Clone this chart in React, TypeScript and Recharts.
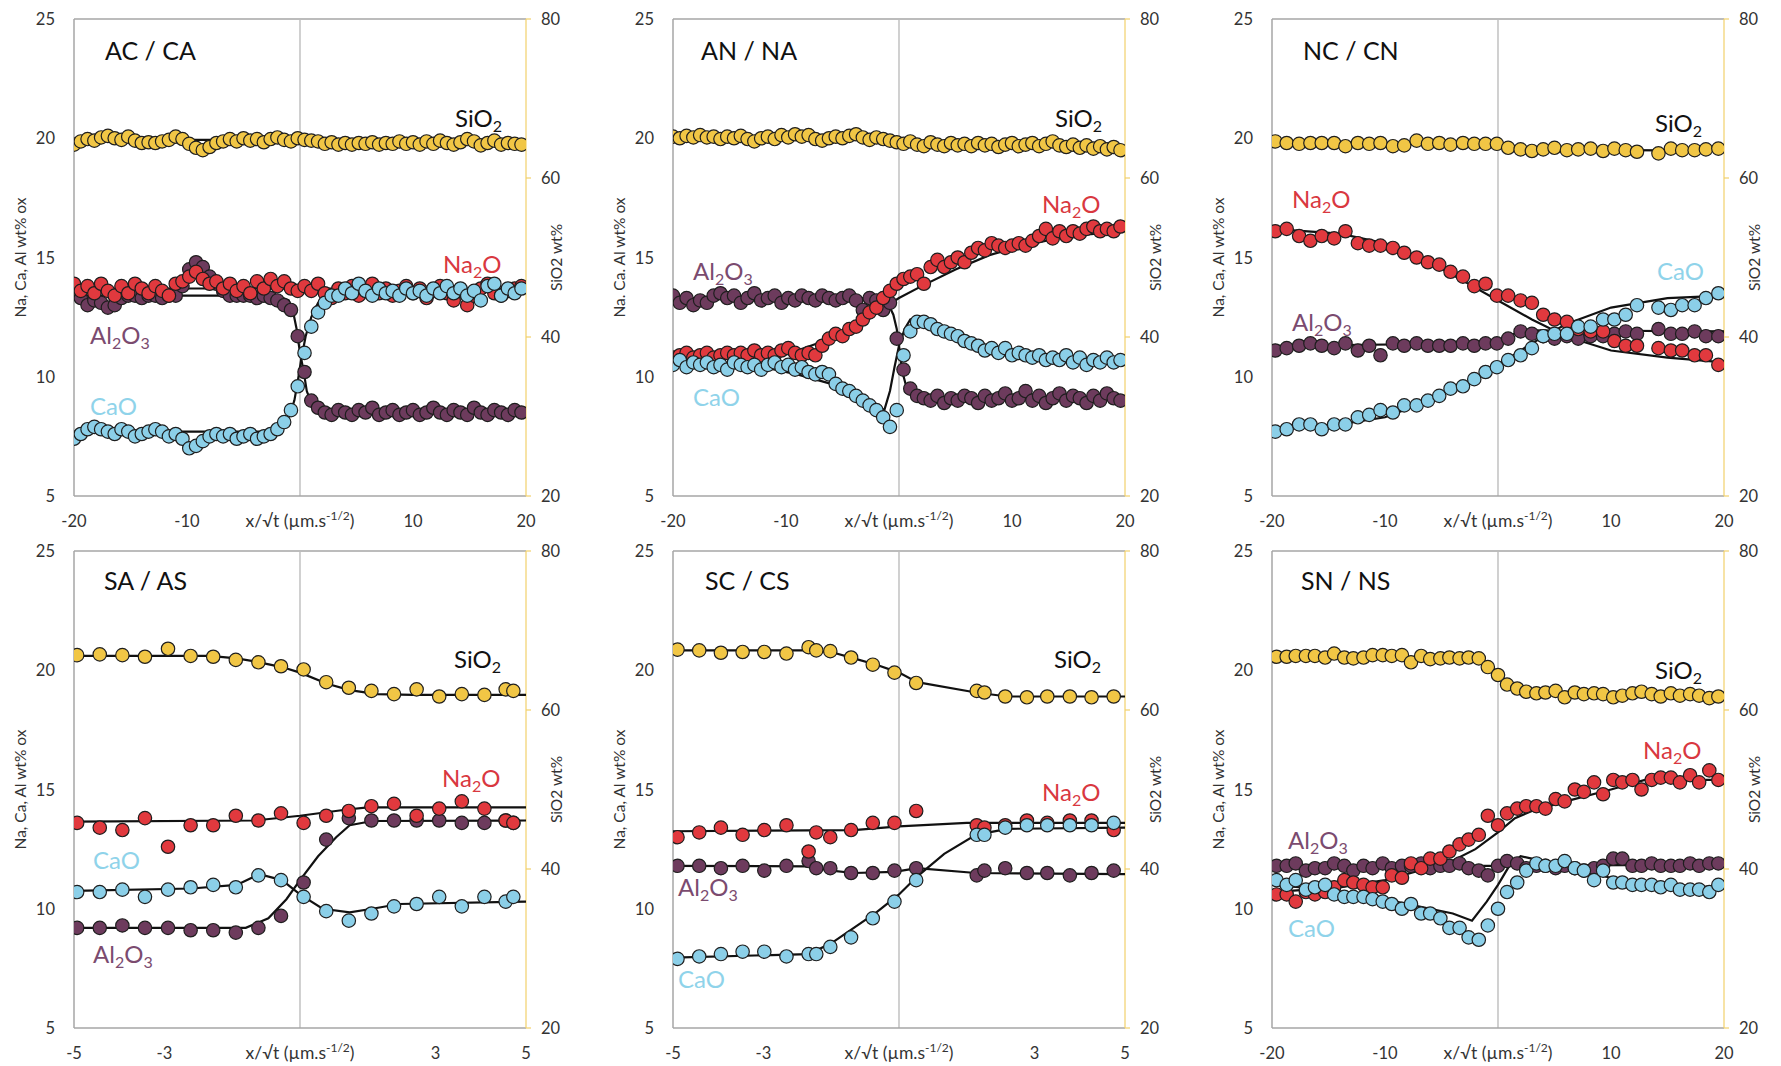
import { ComposedChart, Scatter, XAxis, YAxis, ReferenceLine } from "recharts";

// ---- scan positions -------------------------------------------------------
// dense 40 µm traverses (AC/CA and AN/NA share the same step)
const denseX = [
  -20, -19.4, -18.8, -18.2, -17.6, -17, -16.4, -15.8, -15.2, -14.6,
  -14, -13.4, -12.8, -12.2, -11.6, -11, -10.4, -9.8, -9.2, -8.6,
  -8, -7.4, -6.8, -6.2, -5.6, -5, -4.4, -3.8, -3.2, -2.6,
  -2, -1.4, -0.8, -0.2, 0.4, 1, 1.6, 2.2, 2.8, 3.4,
  4, 4.6, 5.2, 5.8, 6.4, 7, 7.6, 8.2, 8.8, 9.4,
  10, 10.6, 11.2, 11.8, 12.4, 13, 13.6, 14.2, 14.8, 15.4,
  16, 16.6, 17.2, 17.8, 18.4, 19, 19.6,
];

// ---- AC / CA --------------------------------------------------------------
const acSi = [
  64.2, 64.6, 64.9, 64.7, 65.1, 65.3, 65.0, 64.8, 65.2, 64.7,
  64.4, 64.5, 64.4, 64.6, 64.8, 65.2, 64.9, 64.3, 63.8, 63.5,
  63.9, 64.4, 64.6, 64.9, 64.6, 65.0, 64.7, 64.9, 64.5, 64.9,
  65.1, 64.8, 64.6, 65.0, 64.8, 64.7, 64.6, 64.3, 64.5, 64.2,
  64.4, 64.2, 64.4, 64.3, 64.5, 64.2, 64.4, 64.3, 64.6, 64.3,
  64.5, 64.2, 64.6, 64.3, 64.7, 64.4, 64.2, 64.5, 64.9, 64.6,
  64.1, 64.4, 64.7, 64.2, 64.4, 64.3, 64.2,
];
const acNa = [
  13.9, 13.6, 13.8, 13.5, 13.9, 13.6, 13.4, 13.8, 13.5, 13.9,
  13.7, 13.5, 13.8, 13.6, 13.4, 13.9, 14.0, 14.2, 14.4, 14.1,
  13.9, 14.0, 13.7, 13.9, 13.6, 13.8, 13.5, 14.0, 13.7, 14.1,
  13.8, 14.0, 13.7, 13.6, 13.8, 13.6, 13.9, 13.5, 13.3, 13.7,
  13.5, 13.8, 13.4, 13.6, 13.9, 13.5, 13.7, 13.4, 13.6, 13.8,
  13.5, 13.7, 13.3, 13.6, 13.8, 13.5, 13.2, 13.6, 13.0, 13.4,
  13.7, 13.9, 13.5, 13.4, 13.6, 13.7, 13.8,
];
const acAl = [
  13.5, 13.3, 13.0, 13.2, 13.1, 12.9, 13.0, 13.3, 13.4, 13.4,
  13.3, 13.4, 13.4, 13.3, 13.4, 13.4, 13.8, 14.5, 14.8, 14.6,
  14.2, 13.9, 13.6, 13.4, 13.4, 13.4, 13.4, 13.3, 13.4, 13.3,
  13.2, 13.0, 12.8, 11.7, 10.2, 9.0, 8.7, 8.5, 8.4, 8.6,
  8.5, 8.4, 8.6, 8.5, 8.7, 8.4, 8.5, 8.6, 8.4, 8.5,
  8.6, 8.4, 8.5, 8.7, 8.5, 8.4, 8.6, 8.5, 8.4, 8.7,
  8.5, 8.4, 8.6, 8.5, 8.4, 8.6, 8.5,
];
const acCa = [
  7.4, 7.6, 7.8, 7.9, 7.8, 7.7, 7.6, 7.8, 7.7, 7.5,
  7.6, 7.7, 7.8, 7.7, 7.5, 7.6, 7.4, 7.0, 7.1, 7.3,
  7.5, 7.6, 7.5, 7.6, 7.4, 7.5, 7.6, 7.4, 7.5, 7.6,
  7.8, 8.1, 8.6, 9.6, 11.0, 12.1, 12.7, 13.1, 13.4, 13.4,
  13.7, 13.5, 13.9, 13.6, 13.4, 13.7, 13.5, 13.6, 13.4, 13.7,
  13.5, 13.6, 13.4, 13.7, 13.5, 13.8, 13.5, 13.7, 13.4, 13.6,
  13.2, 13.8, 13.9, 13.4, 13.7, 13.5, 13.7,
];
const acFitSi = [[-20, 64.8], [0, 64.8], [20, 64.4]];
const acFitNa = [[-20, 13.7], [20, 13.7]];
const acFitAl = [[-20, 13.4], [-2, 13.4], [-1, 13.2], [-0.6, 12.7], [-0.3, 12.0], [0, 11.0], [0.3, 10.3], [0.6, 9.4], [1, 8.9], [1.6, 8.6], [2.5, 8.5], [20, 8.5]];
const acFitCa = [[-20, 7.7], [-2.5, 7.7], [-1.6, 7.9], [-1, 8.3], [-0.5, 9.0], [-0.2, 9.8], [0.1, 10.7], [0.5, 11.7], [1, 12.5], [1.6, 13.1], [2.4, 13.5], [3.5, 13.6], [20, 13.6]];

// ---- AN / NA --------------------------------------------------------------
const anSi = [
  65.2, 65.0, 65.3, 65.1, 65.4, 65.1, 65.2, 64.9, 65.2, 65.0,
  65.3, 64.9, 64.6, 65.0, 65.2, 64.9, 65.4, 65.1, 65.5, 65.2,
  65.4, 64.9, 64.7, 65.0, 65.2, 65.0, 65.3, 65.5, 65.1, 64.8,
  65.1, 64.9, 64.7, 64.5, 64.3, 64.6, 64.2, 64.0, 64.5, 64.2,
  64.0, 64.4, 64.1, 64.3, 64.0, 64.4, 64.1, 64.3, 63.9, 64.2,
  64.4, 64.0, 64.2, 64.4, 64.0, 64.3, 64.6, 64.1, 63.9, 64.2,
  63.8, 64.1, 63.7, 64.0, 63.6, 63.9, 63.5,
];
const anNa = [
  10.8, 10.9, 11.0, 10.8, 10.9, 11.0, 10.8, 10.9, 11.0, 10.9,
  11.0, 10.9, 11.1, 10.9, 11.0, 10.9, 11.1, 11.2, 11.0, 10.9,
  11.0, 10.9, 11.3, 11.6, 11.8, 11.7, 12.0, 12.1, 12.4, 12.7,
  12.9, 13.3, 13.6, 13.9, 14.1, 14.2, 14.3, 13.9, 14.6, 14.9,
  14.6, 14.8, 15.0, 14.8, 15.2, 15.4, 15.3, 15.6, 15.5, 15.4,
  15.5, 15.6, 15.5, 15.7, 15.9, 16.2, 15.8, 16.1, 15.9, 16.1,
  16.0, 16.2, 16.3, 16.1, 16.2, 16.1, 16.3,
];
const anAl = [
  13.4, 13.1, 13.3, 13.0, 13.2, 13.1, 13.4, 13.5, 13.3, 13.4,
  13.1, 13.3, 13.5, 13.2, 13.3, 13.4, 13.1, 13.3, 13.2, 13.4,
  13.3, 13.2, 13.4, 13.3, 13.2, 13.3, 13.4, 13.2, 12.8, 13.3,
  13.2, 12.8, 13.1, 11.6, 10.3, 9.5, 9.2, 9.1, 9.0, 9.2,
  8.9, 9.1, 9.0, 9.2, 9.1, 8.9, 9.2, 9.0, 9.1, 9.3,
  9.0, 9.1, 9.4, 9.0, 9.2, 8.9, 9.1, 9.3, 9.0, 9.2,
  9.1, 8.9, 9.2, 9.0, 9.3, 9.1, 9.0,
];
const anCa = [
  10.5, 10.7, 10.4, 10.6, 10.5, 10.6, 10.4, 10.5, 10.3, 10.6,
  10.5, 10.4, 10.5, 10.3, 10.5, 10.6, 10.4, 10.5, 10.3, 10.4,
  10.2, 10.1, 10.2, 10.1, 9.7, 9.5, 9.4, 9.2, 9.0, 8.8,
  8.6, 8.3, 7.9, 8.6, 10.9, 11.9, 12.3, 12.3, 12.2, 12.0,
  11.9, 11.8, 11.7, 11.5, 11.4, 11.3, 11.1, 11.2, 11.0, 11.2,
  10.9, 11.0, 10.9, 10.8, 10.9, 10.7, 10.8, 10.7, 10.9, 10.6,
  10.8, 10.5, 10.7, 10.6, 10.8, 10.6, 10.7,
];
const anFitSi = [[-20, 65.1], [-5, 65.1], [0, 64.6], [5, 64.2], [20, 63.9]];
const anFitNa = [[-20, 10.8], [-12, 10.9], [-9, 11.1], [-6, 11.6], [-3, 12.3], [-1, 13.0], [0, 13.3], [2, 13.8], [5, 14.5], [8, 15.1], [11, 15.5], [15, 15.9], [20, 16.1]];
const anFitAl = [[-20, 13.3], [-2, 13.3], [-1, 13.1], [-0.5, 12.6], [-0.2, 12.0], [0, 11.3], [0.3, 10.2], [0.7, 9.5], [1.2, 9.2], [2, 9.1], [20, 9.1]];
const anFitCa = [[-20, 10.5], [-12, 10.4], [-9, 10.1], [-6, 9.7], [-4, 9.4], [-2.5, 9.0], [-1.3, 8.6], [-0.8, 9.4], [-0.4, 10.4], [0, 11.3], [0.5, 12.0], [1, 12.4], [1.7, 12.5], [3, 12.3], [5, 11.9], [7, 11.4], [10, 10.9], [14, 10.7], [20, 10.6]];

// ---- NC / CN --------------------------------------------------------------
const ncX = [
  -19.7, -18.7, -17.6, -16.6, -15.6, -14.5, -13.5, -12.4, -11.4, -10.4,
  -9.3, -8.3, -7.2, -6.2, -5.2, -4.2, -3.1, -2.1, -1.1, -0.1,
  0.9, 2.0, 3.0, 4.0, 5.0, 6.1, 7.1, 8.2, 9.3, 10.3,
  11.3, 12.3, 14.2, 15.3, 16.3, 17.4, 18.4, 19.5,
];
const ncSi = [
  64.6, 64.4, 64.3, 64.4, 64.4, 64.4, 64.0, 64.4, 64.3, 64.4,
  64.0, 64.1, 64.7, 64.3, 64.4, 64.2, 64.4, 64.3, 64.3, 64.3,
  63.8, 63.6, 63.4, 63.6, 63.8, 63.5, 63.6, 63.7, 63.4, 63.7,
  63.5, 63.3, 63.1, 63.7, 63.5, 63.5, 63.6, 63.7,
];
const ncNa = [
  16.1, 16.2, 15.9, 15.7, 15.9, 15.8, 16.1, 15.6, 15.5, 15.5,
  15.4, 15.2, 15.0, 14.8, 14.7, 14.4, 14.2, 13.8, 13.9, 13.4,
  13.4, 13.2, 13.1, 12.6, 12.4, 12.3, 12.0, 11.9, 11.9, 11.5,
  11.3, 11.3, 11.2, 11.1, 11.1, 10.9, 10.9, 10.5,
];
const ncAl = [
  11.1, 11.2, 11.3, 11.4, 11.3, 11.2, 11.4, 11.1, 11.3, 10.9,
  11.4, 11.3, 11.4, 11.3, 11.3, 11.3, 11.4, 11.3, 11.4, 11.4,
  11.6, 11.9, 11.8, 11.7, 11.6, 11.7, 11.6, 11.7, 11.7, 11.8,
  11.9, 11.8, 12.0, 11.8, 11.8, 11.9, 11.7, 11.7,
];
const ncCa = [
  7.7, 7.8, 8.0, 8.0, 7.8, 8.0, 8.0, 8.3, 8.4, 8.6,
  8.5, 8.8, 8.8, 9.0, 9.2, 9.5, 9.6, 9.9, 10.2, 10.4,
  10.7, 10.9, 11.2, 11.7, 11.8, 11.8, 12.1, 12.1, 12.4, 12.4,
  12.6, 13.0, 12.9, 12.8, 13.0, 13.0, 13.3, 13.5,
];
const ncFitSi = [[-20, 64.4], [0, 64.3], [1, 64.0], [3, 63.6], [20, 63.4]];
const ncFitNa = [[-20, 16.2], [-14, 16.0], [-10, 15.6], [-6, 14.8], [-3, 14.0], [0, 13.2], [3, 12.4], [6, 11.7], [10, 11.1], [15, 10.8], [20, 10.6]];
const ncFitAl = [[-20, 11.3], [0, 11.4], [1, 11.7], [2, 11.95], [20, 11.9]];
const ncFitCa = [[-20, 7.8], [-14, 8.0], [-10, 8.3], [-6, 9.0], [-3, 9.7], [0, 10.5], [3, 11.4], [6, 12.2], [10, 12.9], [15, 13.3], [20, 13.4]];

// ---- SA / AS --------------------------------------------------------------
const saX = [-4.93, -4.43, -3.93, -3.43, -2.92, -2.42, -1.92, -1.42, -0.92, -0.42, 0.08, 0.58, 1.08, 1.58, 2.08, 2.58, 3.08, 3.58, 4.08, 4.55, 4.72];
const saSi = [66.9, 67.0, 66.9, 66.7, 67.7, 66.8, 66.7, 66.3, 66.0, 65.5, 65.1, 63.5, 62.8, 62.4, 62.0, 62.6, 61.7, 62.0, 61.9, 62.6, 62.4];
const saNa = [13.6, 13.4, 13.3, 13.8, 12.6, 13.5, 13.5, 13.9, 13.7, 14.0, 13.6, 13.9, 14.1, 14.3, 14.4, 13.9, 14.2, 14.5, 14.2, 13.7, 13.6];
const saAl = [9.2, 9.2, 9.3, 9.2, 9.2, 9.1, 9.1, 9.0, 9.2, 9.7, 11.1, 12.9, 13.8, 13.7, 13.7, 13.7, 13.7, 13.6, 13.6, 13.7, 13.6];
const saCa = [10.7, 10.7, 10.8, 10.5, 10.8, 10.9, 11.0, 10.9, 11.4, 11.2, 10.5, 9.9, 9.5, 9.8, 10.1, 10.2, 10.5, 10.1, 10.5, 10.3, 10.5];
const saFitSi = [[-5, 66.8], [-2, 66.8], [-1.4, 66.5], [-0.9, 66.0], [-0.4, 65.4], [0, 64.7], [0.6, 63.3], [1.1, 62.5], [1.7, 62.0], [2.5, 61.9], [5, 61.9]];
const saFitNa = [[-5, 13.65], [-1, 13.7], [0, 13.9], [1, 14.15], [1.5, 14.25], [5, 14.25]];
const saFitAl = [[-5, 9.2], [-1.2, 9.2], [-0.7, 9.6], [-0.3, 10.4], [0, 11.2], [0.4, 12.2], [0.8, 13.0], [1.1, 13.5], [1.6, 13.68], [5, 13.7]];
const saFitCa = [[-5, 10.75], [-2.4, 10.85], [-1.4, 11.0], [-0.9, 11.45], [-0.4, 11.2], [0, 10.6], [0.5, 10.0], [1.1, 9.85], [1.6, 10.0], [2.2, 10.2], [5, 10.3]];

// ---- SC / CS --------------------------------------------------------------
const scX = [-4.9, -4.42, -3.94, -3.46, -2.98, -2.49, -2.0, -1.83, -1.52, -1.06, -0.58, -0.1, 0.38, 1.72, 1.89, 2.35, 2.83, 3.28, 3.78, 4.26, 4.75];
const scSi = [67.6, 67.5, 67.2, 67.3, 67.3, 67.1, 67.9, 67.5, 67.4, 66.6, 65.7, 64.7, 63.4, 62.4, 62.2, 61.7, 61.6, 61.7, 61.7, 61.6, 61.7];
const scNa = [13.0, 13.2, 13.4, 13.1, 13.3, 13.5, 12.4, 13.2, 13.0, 13.3, 13.6, 13.6, 14.1, 13.5, 13.4, 13.5, 13.7, 13.6, 13.7, 13.7, 13.3];
const scAl = [11.8, 11.8, 11.7, 11.8, 11.6, 11.8, 12.0, 11.7, 11.7, 11.5, 11.5, 11.6, 11.7, 11.4, 11.6, 11.7, 11.5, 11.5, 11.4, 11.5, 11.6];
const scCa = [7.9, 8.0, 8.1, 8.2, 8.2, 8.0, 8.1, 8.1, 8.4, 8.8, 9.6, 10.3, 11.2, 13.1, 13.1, 13.4, 13.5, 13.5, 13.5, 13.5, 13.6];
const scFitSi = [[-5, 67.5], [-2, 67.5], [-1.5, 67.3], [-1, 66.5], [-0.5, 65.7], [0, 64.7], [0.4, 63.5], [1.7, 62.2], [2.4, 61.7], [5, 61.7]];
const scFitNa = [[-5, 13.25], [-1, 13.3], [0, 13.45], [1.5, 13.6], [5, 13.6]];
const scFitAl = [[-5, 11.8], [-2, 11.78], [-1.5, 11.6], [-1, 11.5], [-0.1, 11.55], [0.4, 11.7], [1.7, 11.5], [5, 11.45]];
const scFitCa = [[-5, 7.95], [-2, 8.1], [-1.5, 8.55], [-1, 9.2], [-0.5, 9.85], [0, 10.6], [0.4, 11.35], [1, 12.3], [1.7, 13.1], [2.4, 13.35], [5, 13.4]];

// ---- SN / NS --------------------------------------------------------------
const snX = [
  -19.6, -18.7, -17.9, -17.0, -16.2, -15.3, -14.5, -13.6, -12.8, -11.9,
  -11.1, -10.2, -9.4, -8.5, -7.7, -6.8, -6.0, -5.1, -4.3, -3.4,
  -2.6, -1.7, -0.9, 0.0, 0.8, 1.7, 2.5, 3.4, 4.2, 5.1,
  5.9, 6.8, 7.6, 8.5, 9.3, 10.2, 11.0, 11.9, 12.7, 13.6,
  14.4, 15.3, 16.1, 17.0, 17.8, 18.7, 19.5,
];
const snSi = [
  66.7, 66.7, 66.8, 66.8, 66.8, 66.6, 67.1, 66.6, 66.5, 66.6,
  66.9, 66.9, 66.8, 66.9, 66.0, 66.8, 66.4, 66.5, 66.6, 66.5,
  66.6, 66.5, 65.4, 64.4, 63.2, 62.7, 62.3, 62.1, 62.2, 62.4,
  61.6, 62.2, 62.0, 62.1, 62.0, 61.6, 61.8, 62.1, 62.3, 62.0,
  61.7, 62.1, 61.8, 62.0, 61.8, 61.5, 61.7,
];
const snNa = [
  10.6, 10.6, 10.3, 10.7, 10.6, 10.7, 10.9, 11.2, 11.1, 11.0,
  10.9, 10.9, 11.4, 11.3, 11.9, 11.7, 12.1, 12.1, 12.4, 12.7,
  12.9, 13.1, 13.9, 13.5, 14.0, 14.2, 14.3, 14.3, 14.2, 14.6,
  14.5, 15.0, 14.9, 15.3, 14.8, 15.4, 15.3, 15.4, 15.0, 15.4,
  15.5, 15.5, 15.3, 15.6, 15.3, 15.8, 15.4,
];
const snAl = [
  11.8, 11.8, 11.9, 11.6, 11.7, 11.7, 11.9, 11.8, 11.6, 11.8,
  11.7, 11.9, 11.7, 11.8, 11.8, 11.9, 11.7, 11.8, 11.8, 11.9,
  11.7, 11.6, 11.4, 11.8, 12.0, 11.9, 11.7, 11.8, 11.8, 11.7,
  11.8, 11.7, 11.6, 11.7, 11.8, 12.1, 12.1, 11.8, 11.8, 11.9,
  11.8, 11.8, 11.8, 11.9, 11.8, 11.9, 11.9,
];
const snCa = [
  11.2, 11.0, 11.2, 10.8, 10.9, 11.0, 10.6, 10.5, 10.5, 10.5,
  10.4, 10.3, 10.2, 10.0, 10.2, 9.8, 9.8, 9.6, 9.2, 9.2,
  8.8, 8.7, 9.3, 10.0, 10.7, 11.1, 11.6, 11.9, 11.8, 11.8,
  12.0, 11.7, 11.6, 11.2, 11.6, 11.1, 11.1, 11.0, 11.0, 11.0,
  10.9, 11.0, 10.8, 10.8, 10.8, 10.7, 11.0,
];
const snFitSi = [[-20, 66.7], [-2, 66.6], [-1, 66.0], [0, 64.6], [1, 63.0], [2, 62.3], [4, 62.0], [20, 61.8]];
const snFitNa = [[-20, 10.7], [-14, 10.9], [-10, 11.2], [-7, 11.6], [-4.5, 11.9], [-2, 12.5], [0, 13.2], [1.5, 13.8], [3, 14.1], [6, 14.5], [10, 15.0], [13, 15.4], [20, 15.4]];
const snFitAl = [[-20, 11.8], [0, 11.8], [20, 11.85]];
const snFitCa = [[-20, 11.0], [-15, 10.8], [-10, 10.4], [-6, 10.0], [-4, 9.8], [-2.3, 9.5], [-1, 10.3], [0, 11.0], [1, 11.8], [2, 12.2], [3, 12.1], [5, 11.8], [7, 11.6], [10, 11.3], [14, 11.0], [20, 10.9]];

// ---- look --------------------------------------------------------------------
const FONT = "Lato, 'Open Sans', sans-serif";
const SI_FILL = "#f1c645";
const NA_FILL = "#e1393e";
const AL_FILL = "#6d3b5d";
const CA_FILL = "#8bcfe8";
const AXIS = "#a6a6a6";
const SI_AXIS = "#f2d06b";

const W = 599;
const H = 532;
const PL = 74; // plot left inside a panel
const PT = 19; // plot top
const PW = 452;
const PH = 477;

type Pair = number[];

const WIDE = { domain: [-20, 20], ticks: [-20, -10, 0, 10, 20], shown: [-20, -10, 10, 20] };
const NARROW = { domain: [-5, 5], ticks: [-5, -3, -1, 0, 1, 3, 5], shown: [-5, -3, 3, 5] };

const PANELS = [
  {
    title: "AC / CA", yTitle: "Na, Ca, Al wt% ox", axis: WIDE,
    xs: denseX, si: acSi, na: acNa, al: acAl, ca: acCa,
    fits: [acFitSi, acFitNa, acFitAl, acFitCa],
    at: { title: [105, 60], si: [455, 127], na: [443, 273], al: [90, 344], ca: [90, 415] },
  },
  {
    title: "AN / NA", yTitle: "Na. Ca. Al wt% ox", axis: WIDE,
    xs: denseX, si: anSi, na: anNa, al: anAl, ca: anCa,
    fits: [anFitSi, anFitNa, anFitAl, anFitCa],
    at: { title: [102, 60], si: [456, 127], na: [443, 213], al: [94, 280], ca: [94, 406] },
  },
  {
    title: "NC / CN", yTitle: "Na, Ca, Al wt% ox", axis: WIDE,
    xs: ncX, si: ncSi, na: ncNa, al: ncAl, ca: ncCa,
    fits: [ncFitSi, ncFitNa, ncFitAl, ncFitCa],
    at: { title: [105, 60], si: [457, 132], na: [94, 208], al: [94, 331], ca: [459, 280] },
  },
  {
    title: "SA / AS", yTitle: "Na, Ca, Al wt% ox", axis: NARROW,
    xs: saX, si: saSi, na: saNa, al: saAl, ca: saCa,
    fits: [saFitSi, saFitNa, saFitAl, saFitCa],
    at: { title: [104, 58], si: [454, 136], na: [442, 255], al: [93, 431], ca: [93, 337] },
  },
  {
    title: "SC / CS", yTitle: "Na, Ca, Al wt% ox", axis: NARROW,
    xs: scX, si: scSi, na: scNa, al: scAl, ca: scCa,
    fits: [scFitSi, scFitNa, scFitAl, scFitCa],
    at: { title: [106, 58], si: [455, 136], na: [443, 269], al: [79, 364], ca: [79, 456] },
  },
  {
    title: "SN / NS", yTitle: "Na, Ca, Al wt% ox", axis: WIDE,
    xs: snX, si: snSi, na: snNa, al: snAl, ca: snCa,
    fits: [snFitSi, snFitNa, snFitAl, snFitCa],
    at: { title: [103, 58], si: [457, 147], na: [445, 227], al: [90, 317], ca: [90, 405] },
  },
];

const toPts = (xs: number[], ys: number[]) => xs.map((x, i) => ({ x, y: ys[i] }));
const toLine = (pairs: Pair[]) => pairs.map(([x, y]) => ({ x, y }));

const dot = (fill: string) => (p: any) =>
  p.cx == null ? <g /> : <circle cx={p.cx} cy={p.cy} r={6.7} fill={fill} stroke="#1e1e1e" strokeWidth={1.2} />;
const noDot = () => <g />;

// chemical formula with subscripts
function Chem({ x, y, text, color }: { x: number; y: number; text: string; color: string }) {
  const runs = text.match(/\d+|\D+/g) || [];
  return (
    <text x={x} y={y} fill={color} fontSize={24} fontFamily={FONT}>
      {runs.map((r, i) => {
        const sub = /\d/.test(r);
        return (
          <tspan key={i} dy={sub ? 5 : i > 0 ? -5 : 0} fontSize={sub ? 16 : 24}>
            {r}
          </tspan>
        );
      })}
    </text>
  );
}

function Panel({ p }: { p: (typeof PANELS)[number] }) {
  const shown = p.axis.shown;
  const xTick = (t: any) => {
    const v = t.payload.value;
    const y = PT + PH + 31;
    if (v === 0)
      return (
        <text x={t.x} y={y} textAnchor="middle" fontSize={17.5} fill="#333" fontFamily={FONT}>
          x/√t (µm.s
          <tspan dy={-7} fontSize={12}>-1/2</tspan>
          <tspan dy={7}>)</tspan>
        </text>
      );
    if (!shown.includes(v)) return <g />;
    return (
      <text x={t.x} y={y} textAnchor="middle" fontSize={16.5} fill="#333" fontFamily={FONT}>
        {v}
      </text>
    );
  };
  const leftTick = (t: any) => (
    <text x={PL - 19} y={t.y + 6} textAnchor="end" fontSize={16.5} fill="#333" fontFamily={FONT}>
      {t.payload.value}
    </text>
  );
  const rightTick = (t: any) => (
    <text x={PL + PW + 15} y={t.y + 6} textAnchor="start" fontSize={16.5} fill="#333" fontFamily={FONT}>
      {t.payload.value}
    </text>
  );
  const [fSi, fNa, fAl, fCa] = p.fits;
  const fitLine = { stroke: "#111", strokeWidth: 2.2 };

  return (
    <div style={{ position: "relative", width: W, height: H }}>
      <ComposedChart width={W} height={H} margin={{ top: PT, right: 0, bottom: 0, left: 0 }}>
        <XAxis
          type="number"
          dataKey="x"
          domain={p.axis.domain}
          ticks={p.axis.ticks}
          interval={0}
          allowDataOverflow
          height={H - PT - PH}
          axisLine={{ stroke: AXIS, strokeWidth: 1.5 }}
          tickLine={false}
          tick={xTick}
        />
        <YAxis
          yAxisId="L"
          type="number"
          dataKey="y"
          domain={[5, 25]}
          ticks={[5, 10, 15, 20, 25]}
          interval={0}
          allowDataOverflow
          width={PL}
          axisLine={{ stroke: AXIS, strokeWidth: 1.5 }}
          tickLine={false}
          tick={leftTick}
        />
        <YAxis
          yAxisId="R"
          orientation="right"
          type="number"
          dataKey="y"
          domain={[20, 80]}
          ticks={[20, 40, 60, 80]}
          interval={0}
          allowDataOverflow
          width={W - PL - PW}
          axisLine={{ stroke: SI_AXIS, strokeWidth: 1.2 }}
          tickLine={{ stroke: SI_AXIS, strokeWidth: 1.2 }}
          tickSize={5}
          tick={rightTick}
        />
        <ReferenceLine yAxisId="L" y={25} stroke={AXIS} strokeWidth={1.5} />
        <ReferenceLine yAxisId="L" x={0} stroke="#bdbdbd" strokeWidth={1.4} />

        <Scatter yAxisId="R" data={toLine(fSi)} line={fitLine} lineType="joint" shape={noDot} fill="#111" isAnimationActive={false} />
        <Scatter yAxisId="L" data={toLine(fAl)} line={fitLine} lineType="joint" shape={noDot} fill="#111" isAnimationActive={false} />
        <Scatter yAxisId="L" data={toLine(fNa)} line={fitLine} lineType="joint" shape={noDot} fill="#111" isAnimationActive={false} />
        <Scatter yAxisId="L" data={toLine(fCa)} line={fitLine} lineType="joint" shape={noDot} fill="#111" isAnimationActive={false} />

        <Scatter yAxisId="R" data={toPts(p.xs, p.si)} shape={dot(SI_FILL)} isAnimationActive={false} />
        <Scatter yAxisId="L" data={toPts(p.xs, p.al)} shape={dot(AL_FILL)} isAnimationActive={false} />
        <Scatter yAxisId="L" data={toPts(p.xs, p.na)} shape={dot(NA_FILL)} isAnimationActive={false} />
        <Scatter yAxisId="L" data={toPts(p.xs, p.ca)} shape={dot(CA_FILL)} isAnimationActive={false} />
      </ComposedChart>

      <svg width={W} height={H} style={{ position: "absolute", left: 0, top: 0, pointerEvents: "none" }}>
        <text x={p.at.title[0]} y={p.at.title[1]} fontSize={25} fill="#111" fontFamily={FONT}>
          {p.title}
        </text>
        <Chem x={p.at.si[0]} y={p.at.si[1]} text="SiO2" color="#111" />
        <Chem x={p.at.na[0]} y={p.at.na[1]} text="Na2O" color="#d9383f" />
        <Chem x={p.at.al[0]} y={p.at.al[1]} text="Al2O3" color="#7b4b6f" />
        <Chem x={p.at.ca[0]} y={p.at.ca[1]} text="CaO" color="#8fd3ea" />
        <text
          transform={`translate(26, ${PT + PH / 2}) rotate(-90)`}
          textAnchor="middle"
          fontSize={15.5}
          fill="#333"
          fontFamily={FONT}
        >
          {p.yTitle}
        </text>
        <text
          transform={`translate(562, ${PT + PH / 2}) rotate(-90)`}
          textAnchor="middle"
          fontSize={15.5}
          fill="#333"
          fontFamily={FONT}
        >
          SiO2 wt%
        </text>
      </svg>
    </div>
  );
}

export default function App() {
  return (
    <div style={{ position: "absolute", left: 0, top: 0, width: 1781, height: 1066, background: "#fff", overflow: "hidden" }}>
      {PANELS.map((p, i) => (
        <div key={p.title} style={{ position: "absolute", left: (i % 3) * 599, top: Math.floor(i / 3) * 532 }}>
          <Panel p={p} />
        </div>
      ))}
    </div>
  );
}
